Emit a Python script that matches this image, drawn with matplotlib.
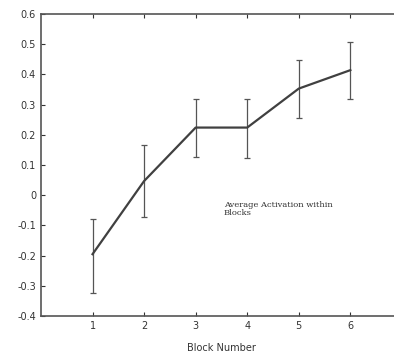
import matplotlib
matplotlib.use('Agg')
import matplotlib.pyplot as plt

blocks = [1, 2, 3, 4, 5, 6]
activation = [-0.195, 0.047, 0.224, 0.224, 0.353, 0.414]
err_low = [0.128, 0.118, 0.098, 0.100, 0.097, 0.096]
err_high = [0.117, 0.119, 0.094, 0.094, 0.094, 0.092]

fig = plt.figure(figsize=(3.94, 3.58), dpi=100)
ax = fig.add_axes([0.104, 0.117, 0.916, 0.844])

ax.errorbar(blocks, activation, yerr=[err_low, err_high], color='#404040',
            lw=1.6, elinewidth=0.9, ecolor='#555555', capsize=2.5, capthick=0.9)

ax.set_xlim(0, 7)
ax.set_ylim(-0.4, 0.6)
ax.set_xticks(blocks)
ax.set_yticks([-0.4, -0.3, -0.2, -0.1, 0, 0.1, 0.2, 0.3, 0.4, 0.5, 0.6])
ax.set_yticklabels(['-0.4', '-0.3', '-0.2', '-0.1', '0', '0.1', '0.2', '0.3',
                    '0.4', '0.5', '0.6'])
ax.tick_params(direction='in', length=3, labelsize=7, colors='#333333',
               top=True, width=0.8)
ax.spines['right'].set_visible(False)
for s in ['left', 'bottom', 'top']:
    ax.spines[s].set_color('#555555')
    ax.spines[s].set_linewidth(1.2)

ax.text(3.55, -0.045, 'Average Activation within\nBlocks', family='DejaVu Serif',
        fontsize=6, color='#333333', va='center', linespacing=1.1)
ax.set_xlabel('Block Number', fontsize=7, color='#333333', labelpad=9)

fig.savefig('out.png', dpi=100)
